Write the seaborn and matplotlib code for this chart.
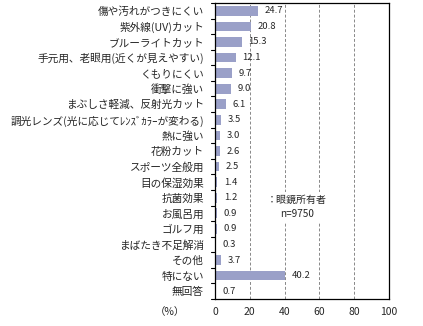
import matplotlib
matplotlib.use("Agg")
import matplotlib.pyplot as plt
import seaborn as sns
import pandas as pd

categories = ["傷や汚れがつきにくい", "紫外線(UV)カット", "ブルーライトカット",
              "手元用、老眼用(近くが見えやすい)", "くもりにくい", "衝撃に強い",
              "まぶしさ軽減、反射光カット", "調光レンズ(光に応じてﾚﾝｽﾞｶﾗｰが変わる)",
              "熱に強い", "花粉カット", "スポーツ全般用", "目の保湿効果", "抗菌効果",
              "お風呂用", "ゴルフ用", "まばたき不足解消", "その他", "特にない", "無回答"]
values = [24.7, 20.8, 15.3, 12.1, 9.7, 9.0, 6.1, 3.5, 3.0, 2.6, 2.5, 1.4, 1.2,
          0.9, 0.9, 0.3, 3.7, 40.2, 0.7]
xticks = [0, 20, 40, 60, 80, 100]

sns.set_style("white")
plt.rcParams['font.family'] = ['Noto Sans CJK JP', 'DejaVu Sans']

df = pd.DataFrame({"cat": categories, "val": values})
fig = plt.figure(figsize=(4.23, 3.26), dpi=100)
ax = fig.add_axes([215/423, 1 - 299/326, (389-215)/423, (299-3)/326])
sns.barplot(data=df, x="val", y="cat", color="#9aa0c8", saturation=1, width=0.62,
            edgecolor="none", ax=ax)
ax.set_xlim(0, 100)
ax.set_ylim(len(categories) - 0.5, -0.5)
ax.set_xticks(xticks)
ax.set_xticklabels([str(t) for t in xticks], fontsize=7.5)
for g in xticks[1:-1]:
    ax.axvline(g, color="#888888", linestyle=(0, (3, 2)), linewidth=0.7, zorder=0)
ax.set_yticks(range(len(categories)))
ax.set_yticklabels(categories, fontsize=7.7)
ax.tick_params(axis="y", length=0, pad=8)
ax.tick_params(axis="x", length=0, pad=6)
for i in range(len(categories) + 1):
    ax.plot([-0.025, 0], [i - 0.5, i - 0.5], transform=ax.get_yaxis_transform(),
            color="black", linewidth=0.8, clip_on=False)
for s in ax.spines.values():
    s.set_color("black")
    s.set_linewidth(0.9)
ax.set_xlabel("")
ax.set_ylabel("")
for i, v in enumerate(values):
    ax.text(v + 3.8, i, f"{v:.1f}", va="center", ha="left", fontsize=6.8)
ax.text(0.47, 0.31, "：眼鏡所有者\nn=9750", transform=ax.transAxes, fontsize=7.2,
        ha="center", va="center", linespacing=1.5,
        bbox=dict(facecolor="white", edgecolor="none", pad=2), zorder=3)
fig.text(170/423, 1 - 312/326, "（%）", fontsize=7.5, ha="center", va="center")
fig.savefig("out.png", dpi=100, facecolor="white")
